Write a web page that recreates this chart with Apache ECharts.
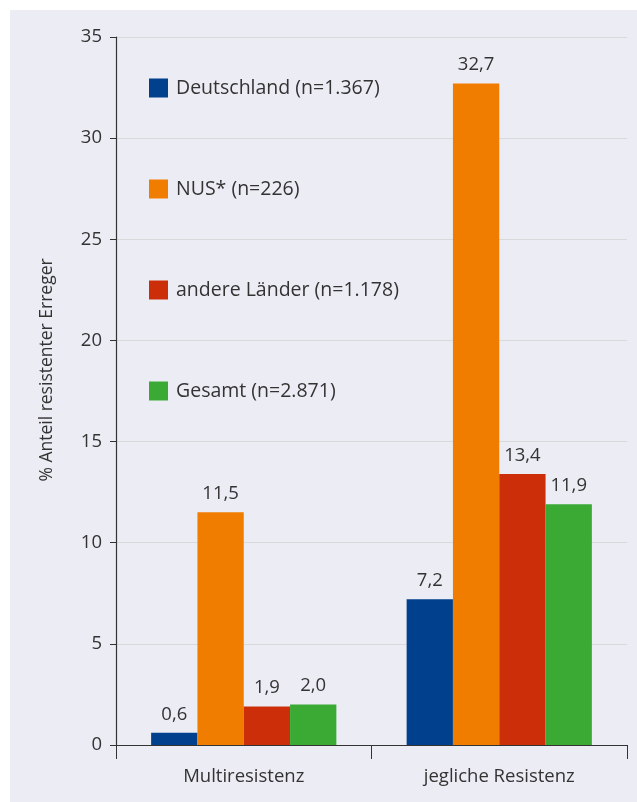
<!DOCTYPE html>
<html><head><meta charset="utf-8">
<script src="https://cdn.jsdelivr.net/npm/echarts@6/dist/echarts.min.js"></script>
<style>html,body{margin:0;padding:0;background:#fff}#c{width:637px;height:802px}</style>
</head><body><div id="c"></div>
<script>
const categories = ['Multiresistenz', 'jegliche Resistenz'];
const seriesNames = ['Deutschland (n=1.367)', 'NUS* (n=226)', 'andere Länder (n=1.178)', 'Gesamt (n=2.871)'];
const deutschland = [0.6, 7.2];
const nus = [11.5, 32.7];
const andere = [1.9, 13.4];
const gesamt = [2.0, 11.9];
const yTicks = [0, 5, 10, 15, 20, 25, 30, 35];
const colors = ['#00408C', '#F07D00', '#CC2E0A', '#3AAA35'];
const values = [deutschland, nus, andere, gesamt];
const FONT = 'Open Sans';
const W = 400;
const chart = echarts.init(document.getElementById('c'), null, {renderer: 'canvas'});
chart.setOption({
  animation: false,
  backgroundColor: '#ffffff',
  textStyle: {fontFamily: FONT},
  graphic: [{type: 'rect', z: -10, silent: true, shape: {x: 10, y: 10, width: 627, height: 792}, style: {fill: '#ECECF5'}}],
  grid: {left: 116, top: 37, right: 10, bottom: 57, containLabel: false},
  legend: {
    orient: 'vertical', left: 149, top: 78, padding: 0, itemWidth: 19, itemHeight: 19, itemGap: 81,
    icon: 'rect', data: seriesNames,
    textStyle: {fontFamily: FONT, fontSize: 19.5, fontWeight: W, color: '#333', padding: [0, 0, 0, 3]}
  },
  xAxis: {
    type: 'category', data: categories,
    axisLine: {lineStyle: {color: '#333', width: 1.2}},
    axisTick: {show: true, length: 14, lineStyle: {color: '#333'}},
    axisLabel: {fontSize: 18.5, fontWeight: W, color: '#333', margin: 22, fontFamily: FONT}
  },
  yAxis: {
    type: 'value', min: 0, max: 35, interval: 5,
    name: '% Anteil resistenter Erreger', nameLocation: 'middle', nameRotate: 90, nameGap: 60,
    nameTextStyle: {fontSize: 17.5, fontWeight: W, color: '#333', fontFamily: FONT, padding: [0, 0, 0, 42]},
    axisLine: {show: true, lineStyle: {color: '#333', width: 1.2}},
    axisTick: {show: true, length: 6, lineStyle: {color: '#333'}},
    axisLabel: {fontSize: 18.5, fontWeight: W, color: '#333', margin: 14, fontFamily: FONT,
      formatter: v => yTicks.includes(v) ? String(v) : ''},
    splitLine: {show: true, lineStyle: {color: '#D9D9D9', width: 1}}
  },
  series: seriesNames.map((n, i) => ({
    name: n, type: 'bar', data: values[i], barGap: '0%', barCategoryGap: '27.5%',
    itemStyle: {color: colors[i]},
    label: {show: true, position: 'top', distance: 9, fontSize: 18.5, fontWeight: W, color: '#333', fontFamily: FONT,
      formatter: p => p.value.toFixed(1).replace('.', ',')}
  }))
});
</script></body></html>
